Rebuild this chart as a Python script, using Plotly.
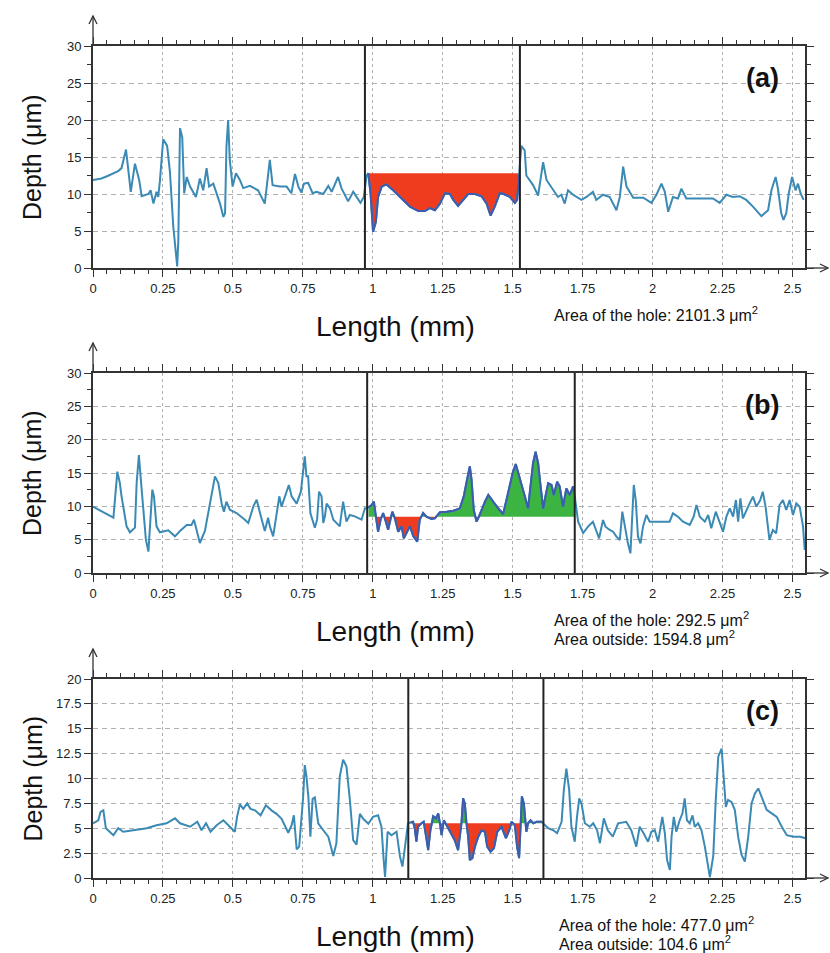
import numpy as np
import plotly.graph_objects as go

# ---------------- data ----------------
# Panel (a)
xa = [0.0, 0.03, 0.05, 0.07, 0.09, 0.102, 0.118, 0.135, 0.150, 0.165, 0.174, 0.198, 0.206, 0.216, 0.227, 0.233,
      0.239, 0.251, 0.265, 0.275, 0.287, 0.301, 0.305, 0.311, 0.319, 0.326, 0.335, 0.347, 0.358, 0.368, 0.376,
      0.382, 0.394, 0.406, 0.415, 0.430, 0.454, 0.466, 0.472, 0.477, 0.483, 0.489, 0.499, 0.511, 0.525, 0.537,
      0.561, 0.590, 0.614, 0.626, 0.632, 0.642, 0.668, 0.692, 0.709, 0.722, 0.734, 0.745, 0.754, 0.769, 0.785,
      0.799, 0.823, 0.841, 0.853, 0.876, 0.888, 0.912, 0.930, 0.956, 0.968, 0.978, 0.984, 0.992, 1.001, 1.011,
      1.019, 1.032, 1.049, 1.073, 1.109, 1.133, 1.163, 1.186, 1.204, 1.222, 1.240, 1.258, 1.276, 1.288, 1.305,
      1.324, 1.341, 1.365, 1.389, 1.407, 1.421, 1.436, 1.454, 1.468, 1.490, 1.508, 1.516, 1.531, 1.543, 1.549,
      1.573, 1.591, 1.609, 1.621, 1.645, 1.662, 1.674, 1.686, 1.698, 1.716, 1.746, 1.764, 1.787, 1.799, 1.823,
      1.847, 1.871, 1.883, 1.895, 1.907, 1.931, 1.967, 1.996, 2.014, 2.032, 2.044, 2.056, 2.073, 2.091, 2.103,
      2.121, 2.168, 2.216, 2.240, 2.264, 2.287, 2.311, 2.335, 2.359, 2.389, 2.413, 2.425, 2.440, 2.448, 2.460,
      2.468, 2.478, 2.487, 2.499, 2.511, 2.520, 2.529, 2.540]
ya = [11.9, 12.1, 12.4, 12.7, 13.1, 13.5, 16.0, 10.3, 14.1, 11.9, 9.7, 10.0, 10.5, 8.7, 10.3, 9.6,
      11.7, 17.4, 16.5, 13.0, 5.6, 0.2, 3.8, 18.9, 17.7, 10.1, 12.3, 11.0, 10.3, 9.6, 11.0,
      12.1, 10.5, 13.5, 11.0, 11.4, 8.7, 6.9, 7.4, 16.4, 20.0, 14.6, 11.0, 12.8, 11.9, 10.8,
      11.1, 10.5, 8.7, 12.8, 14.6, 11.2, 11.0, 11.0, 10.1, 12.7, 11.0, 10.2, 11.4, 11.5, 10.1,
      10.3, 10.0, 11.1, 10.3, 12.3, 10.8, 9.0, 10.3, 8.8, 9.6, 12.5, 12.8, 10.1, 4.9, 6.2,
      9.6, 11.0, 11.3, 10.5, 9.2, 8.3, 7.7, 7.7, 8.1, 7.8, 8.7, 10.1, 10.0, 9.2, 8.4,
      9.2, 10.0, 10.0, 9.7, 8.7, 7.1, 8.3, 10.1, 10.0, 9.6, 8.8, 9.2, 16.5, 15.9, 12.5,
      11.2, 9.8, 14.3, 11.9, 10.5, 9.6, 9.9, 8.7, 10.5, 9.9, 9.2, 9.6, 10.3, 9.2, 9.9,
      9.6, 7.8, 9.6, 13.7, 11.0, 9.5, 9.5, 8.8, 9.9, 11.4, 10.3, 7.6, 9.6, 9.4, 10.7,
      9.4, 9.4, 9.4, 8.8, 9.9, 9.6, 9.7, 9.2, 8.3, 7.0, 7.8, 10.5, 12.3, 10.8, 7.4,
      6.5, 7.4, 10.1, 12.3, 10.5, 11.4, 10.1, 9.2]

# Panel (b)
xb = [0.0, 0.043, 0.073, 0.087, 0.096, 0.102, 0.120, 0.132, 0.150, 0.156, 0.164, 0.171, 0.180, 0.189, 0.198,
      0.204, 0.212, 0.218, 0.227, 0.239, 0.269, 0.293, 0.311, 0.335, 0.352, 0.361, 0.370, 0.382, 0.400, 0.418,
      0.436, 0.448, 0.460, 0.468, 0.477, 0.489, 0.513, 0.543, 0.555, 0.573, 0.585, 0.597, 0.614, 0.626, 0.632,
      0.644, 0.656, 0.666, 0.674, 0.692, 0.700, 0.710, 0.728, 0.743, 0.751, 0.757, 0.763, 0.769, 0.777, 0.793,
      0.801, 0.808, 0.817, 0.823, 0.829, 0.835, 0.847, 0.859, 0.882, 0.894, 0.906, 0.918, 0.936, 0.960, 0.972,
      0.980, 0.996, 1.004, 1.011, 1.019, 1.028, 1.037, 1.047, 1.055, 1.063, 1.070, 1.079, 1.091, 1.103, 1.111,
      1.123, 1.133, 1.145, 1.159, 1.168, 1.180, 1.192, 1.210, 1.222, 1.240, 1.264, 1.288, 1.311, 1.325, 1.337,
      1.347, 1.353, 1.361, 1.371, 1.380, 1.389, 1.401, 1.413, 1.430, 1.448, 1.466, 1.484, 1.500, 1.511, 1.523,
      1.544, 1.555, 1.564, 1.573, 1.582, 1.591, 1.600, 1.609, 1.617, 1.627, 1.639, 1.647, 1.659, 1.668, 1.680,
      1.692, 1.704, 1.716, 1.722, 1.734, 1.752, 1.770, 1.787, 1.799, 1.809, 1.823, 1.832, 1.847, 1.859, 1.871,
      1.883, 1.892, 1.901, 1.912, 1.921, 1.928, 1.933, 1.940, 1.948, 1.957, 1.966, 1.978, 1.990, 2.026, 2.061,
      2.073, 2.091, 2.109, 2.133, 2.147, 2.157, 2.169, 2.187, 2.199, 2.210, 2.226, 2.238, 2.252, 2.264, 2.276,
      2.288, 2.298, 2.306, 2.314, 2.323, 2.335, 2.347, 2.359, 2.371, 2.385, 2.394, 2.404, 2.412, 2.418, 2.430,
      2.442, 2.454, 2.466, 2.478, 2.490, 2.502, 2.514, 2.526, 2.538, 2.544]
yb = [9.95, 9.0, 8.3, 15.2, 13.5, 11.5, 7.0, 6.1, 6.8, 13.5, 17.7, 14.0, 9.0, 5.0, 3.2,
      8.0, 12.5, 11.5, 7.0, 6.1, 6.4, 5.5, 6.3, 7.2, 7.2, 8.0, 6.5, 4.5, 6.3, 10.4,
      14.5, 13.5, 10.4, 9.2, 10.7, 9.5, 9.0, 8.0, 7.5, 9.95, 11.0, 9.0, 6.3, 8.3, 7.0,
      5.5, 9.0, 11.5, 9.95, 12.0, 13.2, 11.5, 10.4, 12.2, 15.0, 17.5, 14.5, 14.5, 9.0, 6.8,
      8.0, 12.2, 11.5, 7.5, 8.5, 10.4, 9.7, 8.0, 7.0, 10.7, 7.7, 8.7, 8.5, 8.0, 9.7,
      9.7, 10.2, 10.7, 8.45, 6.2, 8.0, 9.0, 7.7, 6.5, 8.0, 9.2, 8.2, 6.2, 7.0, 5.2,
      6.2, 7.0, 5.5, 4.7, 8.0, 9.0, 8.45, 8.1, 8.2, 9.1, 9.2, 9.35, 9.7, 11.45, 14.0,
      16.0, 14.0, 9.45, 7.7, 8.45, 9.45, 10.7, 11.7, 10.7, 9.7, 8.85, 12.0, 15.0, 16.35, 14.7,
      11.45, 9.7, 13.0, 16.5, 18.2, 16.5, 13.0, 9.7, 11.45, 13.45, 13.2, 11.7, 13.7, 13.0, 9.95,
      12.7, 11.7, 13.0, 11.5, 7.7, 6.0, 7.0, 7.7, 6.45, 5.2, 7.95, 6.95, 6.45, 6.2, 5.45,
      4.95, 9.2, 6.95, 4.45, 2.95, 7.95, 13.2, 10.95, 5.45, 4.45, 6.95, 8.7, 7.7, 7.7, 7.7,
      8.95, 8.45, 7.7, 7.2, 8.45, 10.2, 8.45, 7.7, 8.7, 6.7, 9.2, 7.7, 6.2, 8.45, 9.7,
      8.45, 10.95, 7.7, 11.2, 8.2, 9.45, 10.45, 11.45, 9.95, 10.95, 12.2, 9.95, 6.95, 4.95, 6.45,
      5.95, 10.2, 10.95, 9.45, 10.95, 8.7, 10.45, 9.95, 6.95, 3.45]

# Panel (c)
xc = [0.0, 0.019, 0.027, 0.037, 0.046, 0.073, 0.090, 0.108, 0.144, 0.192, 0.227, 0.263, 0.293, 0.311, 0.347,
      0.373, 0.388, 0.404, 0.420, 0.442, 0.466, 0.489, 0.507, 0.515, 0.525, 0.537, 0.551, 0.563, 0.579, 0.599,
      0.618, 0.638, 0.656, 0.674, 0.698, 0.710, 0.718, 0.728, 0.737, 0.751, 0.757, 0.763, 0.770, 0.777, 0.785,
      0.793, 0.805, 0.823, 0.841, 0.859, 0.870, 0.882, 0.894, 0.906, 0.918, 0.930, 0.942, 0.954, 0.966, 0.984,
      1.001, 1.019, 1.031, 1.039, 1.044, 1.053, 1.067, 1.085, 1.097, 1.106, 1.114, 1.126, 1.144, 1.150, 1.156,
      1.162, 1.174, 1.182, 1.192, 1.198, 1.206, 1.216, 1.226, 1.234, 1.240, 1.246, 1.254, 1.264, 1.276, 1.293,
      1.305, 1.311, 1.317, 1.323, 1.329, 1.335, 1.341, 1.347, 1.356, 1.365, 1.377, 1.389, 1.401, 1.409, 1.421,
      1.433, 1.445, 1.460, 1.476, 1.488, 1.496, 1.508, 1.516, 1.523, 1.529, 1.533, 1.540, 1.545, 1.549, 1.555,
      1.564, 1.574, 1.585, 1.603, 1.627, 1.645, 1.659, 1.675, 1.683, 1.692, 1.702, 1.710, 1.722, 1.730, 1.738,
      1.746, 1.758, 1.776, 1.788, 1.802, 1.812, 1.826, 1.840, 1.858, 1.877, 1.906, 1.924, 1.942, 1.954, 1.968,
      1.984, 1.996, 2.008, 2.020, 2.035, 2.044, 2.052, 2.062, 2.068, 2.076, 2.085, 2.097, 2.107, 2.115, 2.123,
      2.133, 2.143, 2.151, 2.163, 2.175, 2.187, 2.205, 2.217, 2.226, 2.235, 2.247, 2.255, 2.262, 2.270, 2.282,
      2.294, 2.306, 2.318, 2.330, 2.342, 2.354, 2.366, 2.378, 2.390, 2.408, 2.426, 2.444, 2.462, 2.480, 2.504,
      2.528, 2.546]
yc = [5.5, 5.8, 6.65, 6.8, 5.0, 4.3, 5.0, 4.65, 4.8, 5.0, 5.3, 5.5, 6.0, 5.5, 5.15,
      5.65, 4.8, 5.5, 4.65, 5.3, 5.8, 5.15, 4.65, 6.15, 7.4, 6.95, 7.5, 6.95, 6.8, 6.3,
      7.3, 6.8, 6.45, 5.95, 4.55, 5.3, 6.3, 2.88, 3.15, 8.1, 11.35, 10.2, 8.1, 4.15, 7.95,
      8.1, 5.5, 4.8, 4.15, 2.2, 3.5, 10.2, 11.9, 11.2, 7.9, 3.8, 3.35, 6.45, 5.95, 5.45,
      6.15, 6.3, 5.15, 1.8, 0.1, 4.65, 4.3, 4.65, 2.2, 1.15, 3.15, 5.5, 5.65, 5.0, 3.65,
      5.15, 5.5, 5.65, 4.0, 2.8, 4.8, 6.2, 6.0, 6.5, 5.5, 4.3, 5.8, 5.3, 4.8, 3.8,
      2.8, 4.15, 5.5, 8.0, 7.5, 5.5, 4.15, 1.8, 2.0, 3.15, 4.15, 4.8, 4.65, 3.15, 2.65,
      3.0, 4.65, 5.15, 4.0, 4.8, 5.65, 5.3, 3.15, 2.0, 5.5, 8.2, 7.5, 5.5, 4.65, 5.5,
      5.8, 5.5, 5.65, 5.65, 5.0, 4.8, 4.5, 5.65, 8.85, 11.0, 8.85, 5.15, 3.65, 6.15, 8.0,
      7.5, 5.5, 5.15, 5.5, 4.8, 3.5, 6.0, 4.8, 4.15, 5.5, 5.65, 4.8, 3.15, 5.15, 4.5,
      3.65, 4.65, 4.8, 3.65, 6.15, 4.5, 1.8, 0.8, 4.15, 6.15, 4.65, 5.8, 6.5, 8.0, 5.8,
      5.5, 6.3, 5.15, 5.5, 4.8, 3.15, 0.1, 2.2, 7.85, 12.2, 13.0, 10.2, 7.15, 7.85, 7.65,
      6.85, 4.15, 2.35, 1.65, 4.15, 7.5, 8.5, 9.0, 8.15, 6.85, 6.5, 6.15, 5.15, 4.3, 4.15,
      4.15, 4.0]

panel_labels = ["(a)", "(b)", "(c)"]
levels = [12.8, 8.45, 5.5]                       # reference level of each hole
hole_bounds = [(0.972, 1.526), (0.980, 1.722), (1.127, 1.610)]   # vertical marker lines
fill_bounds = [(0.983, 1.523), (0.985, 1.720), (1.135, 1.604)]   # extent of the filled area
y_max = [30, 30, 20]
y_dtick = [5, 5, 2.5]
y_minor = [2.5, 2.5, None]
area_texts = [["Area of the hole: 2101.3 \u03bcm<sup>2</sup>"],
              ["Area of the hole: 292.5 \u03bcm<sup>2</sup>", "Area outside: 1594.8 \u03bcm<sup>2</sup>"],
              ["Area of the hole: 477.0 \u03bcm<sup>2</sup>", "Area outside: 104.6 \u03bcm<sup>2</sup>"]]
x_title = "Length (mm)"
y_title = "Depth (\u03bcm)"

# ---------------- layout geometry (pixels) ----------------
W, H = 830, 953
XL, XR = 93, 805
panel_px = [(46, 268), (373, 573), (679, 878)]
X_MAX = 2.545
FONT = "Liberation Sans, Arial, sans-serif"
LINE_COL = "#3b8ab5"
RED = "#f03c1e"
GREEN = "#3cb441"
AX_COL = "#333333"


def pxx(x):
    return x / W


def pxy(y):
    return 1 - y / H


def split_fill(xs, ys, level, x0, x1):
    xs = np.asarray(xs, float)
    ys = np.asarray(ys, float)
    inner = xs[(xs > x0) & (xs < x1)]
    px = np.concatenate([[x0], inner, [x1]])
    py = np.interp(px, xs, ys)
    nx, ny = [px[0]], [py[0]]
    for i in range(1, len(px)):
        a, b = py[i - 1] - level, py[i] - level
        if a * b < 0:
            t = a / (a - b)
            nx.append(px[i - 1] + t * (px[i] - px[i - 1]))
            ny.append(level)
        nx.append(px[i])
        ny.append(py[i])
    return np.array(nx), np.array(ny)


fig = go.Figure()
series = [(xa, ya), (xb, yb), (xc, yc)]
shapes = []
annotations = []

for i, ((xs, ys), level, (h0, h1), (f0, f1)) in enumerate(zip(series, levels, hole_bounds, fill_bounds)):
    sfx = "" if i == 0 else str(i + 1)
    xref, yref = "x" + sfx, "y" + sfx
    nx, ny = split_fill(xs, ys, level, f0, f1)
    lo = np.minimum(ny, level)
    hi = np.maximum(ny, level)
    lev = np.full_like(nx, level)
    # red (below the level)
    fig.add_trace(go.Scatter(x=np.concatenate([nx, nx[::-1]]), y=np.concatenate([lo, lev[::-1]]),
                             fill="toself", fillcolor=RED, line=dict(width=0), mode="lines",
                             hoverinfo="skip", showlegend=False, xaxis=xref, yaxis=yref))
    # green (above the level)
    if np.any(hi > level + 1e-9):
        fig.add_trace(go.Scatter(x=np.concatenate([nx, nx[::-1]]), y=np.concatenate([hi, lev[::-1]]),
                                 fill="toself", fillcolor=GREEN, line=dict(width=0), mode="lines",
                                 hoverinfo="skip", showlegend=False, xaxis=xref, yaxis=yref))
    # profile
    fig.add_trace(go.Scatter(x=xs, y=ys, mode="lines", line=dict(color=LINE_COL, width=2),
                             showlegend=False, xaxis=xref, yaxis=yref))
    # darker profile inside the hole
    fig.add_trace(go.Scatter(x=nx, y=ny, mode="lines", line=dict(color="#3d5cae", width=2),
                             showlegend=False, xaxis=xref, yaxis=yref))

    top, bot = panel_px[i]
    ydom = [pxy(bot), pxy(top)]
    xax = dict(domain=[pxx(XL), pxx(XR)], range=[0, X_MAX], anchor=yref,
               tick0=0, dtick=0.25, ticks="outside", ticklen=7, tickwidth=1.3, tickcolor=AX_COL,
               showline=True, linecolor=AX_COL, linewidth=2, mirror="allticks",
               showgrid=True, gridcolor="#b0b0b0", gridwidth=1, griddash="3px,3px",
               minor=dict(dtick=0.05, tick0=0, ticks="outside", ticklen=4, tickwidth=1.2,
                          tickcolor=AX_COL, showgrid=False),
               zeroline=False, tickfont=dict(family=FONT, size=13, color="#222"),
               automargin=False, fixedrange=True)
    yax = dict(domain=ydom, range=[0, y_max[i]], anchor=xref,
               tick0=0, dtick=y_dtick[i], ticks="outside", ticklen=7, tickwidth=1.3, tickcolor=AX_COL,
               showline=True, linecolor=AX_COL, linewidth=2, mirror="allticks",
               showgrid=True, gridcolor="#b0b0b0", gridwidth=1, griddash="5px,4px",
               zeroline=False, tickfont=dict(family=FONT, size=13, color="#222"),
               automargin=False, fixedrange=True)
    if y_minor[i]:
        yax["minor"] = dict(dtick=y_minor[i], tick0=0, ticks="outside", ticklen=4, tickwidth=1.2,
                            tickcolor=AX_COL, showgrid=False)
    fig.update_layout(**{"xaxis" + sfx: xax, "yaxis" + sfx: yax})

    # hole boundary lines
    for hx in (h0, h1):
        shapes.append(dict(type="line", xref=xref, yref=yref + " domain", x0=hx, x1=hx, y0=0, y1=1,
                           line=dict(color="#222", width=2)))
    # axis extensions with open arrowheads
    tip_y = top - 30
    shapes.append(dict(type="line", xref="paper", yref="paper", x0=pxx(XL), x1=pxx(XL),
                       y0=pxy(top), y1=pxy(tip_y), line=dict(color=AX_COL, width=1.3)))
    shapes.append(dict(type="path", xref="paper", yref="paper",
                       path=f"M {pxx(XL-4)} {pxy(tip_y+8)} L {pxx(XL)} {pxy(tip_y)} L {pxx(XL+4)} {pxy(tip_y+8)}",
                       line=dict(color=AX_COL, width=1.3)))
    tip_x = 828
    shapes.append(dict(type="line", xref="paper", yref="paper", x0=pxx(XR), x1=pxx(tip_x),
                       y0=pxy(bot), y1=pxy(bot), line=dict(color=AX_COL, width=1.3)))
    shapes.append(dict(type="path", xref="paper", yref="paper",
                       path=f"M {pxx(tip_x-8)} {pxy(bot-4)} L {pxx(tip_x)} {pxy(bot)} L {pxx(tip_x-8)} {pxy(bot+4)}",
                       line=dict(color=AX_COL, width=1.3)))

    # titles
    annotations.append(dict(text=y_title, xref="paper", yref="paper", x=pxx(32), y=pxy((top + bot) / 2),
                            textangle=-90, showarrow=False, xanchor="center", yanchor="middle",
                            font=dict(family=FONT, size=25, color="#111")))
    annotations.append(dict(text=x_title, xref="paper", yref="paper", x=pxx(395), y=pxy(bot + 58),
                            showarrow=False, xanchor="center", yanchor="middle",
                            font=dict(family=FONT, size=28, color="#111")))
    annotations.append(dict(text="<b>" + panel_labels[i] + "</b>", xref="paper", yref="paper",
                            x=pxx(762), y=pxy(top + 32), showarrow=False, xanchor="center", yanchor="middle",
                            font=dict(family=FONT, size=27, color="#111")))
    for j, t in enumerate(area_texts[i]):
        annotations.append(dict(text=t, xref="paper", yref="paper", x=pxx(552 if i < 2 else 557),
                                y=pxy(bot + 46 + 19 * j), showarrow=False, xanchor="left", yanchor="middle",
                                font=dict(family=FONT, size=16, color="#111")))

fig.update_layout(width=W, height=H, margin=dict(l=0, r=0, t=0, b=0, pad=0),
                  paper_bgcolor="white", plot_bgcolor="white",
                  shapes=shapes, annotations=annotations, showlegend=False,
                  font=dict(family=FONT))

fig.write_html("out.html")
